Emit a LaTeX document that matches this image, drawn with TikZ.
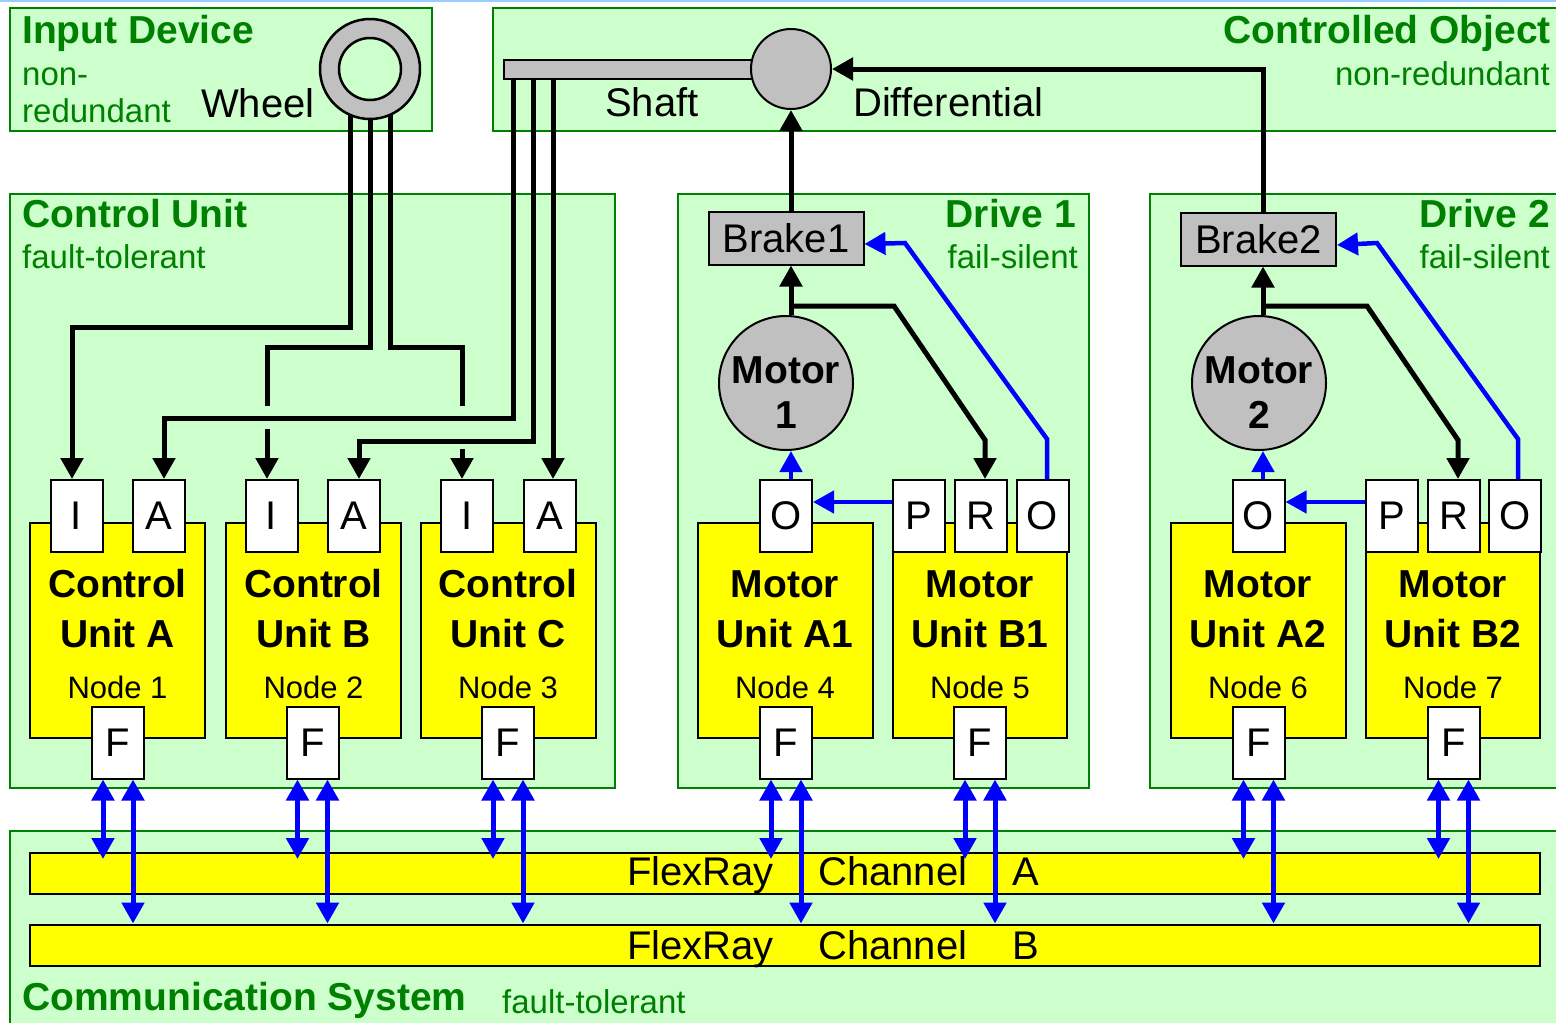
\documentclass[tikz,border=0pt]{standalone}
\usepackage{fontspec}
\setmainfont{Liberation Sans}
\usetikzlibrary{arrows.meta,calc}

\definecolor{cZoneBg}{HTML}{CCFFCC}
\definecolor{cZoneLine}{HTML}{008000}
\definecolor{cZoneText}{HTML}{008000}
\definecolor{cGray}{HTML}{C0C0C0}
\definecolor{cBlue}{HTML}{0000FF}
\definecolor{cYellow}{HTML}{FFFF00}
\definecolor{cRule}{HTML}{99CCFF}

\pgfdeclarelayer{zones}
\pgfdeclarelayer{wires}
\pgfsetlayers{zones,wires,main}

\newcommand\fsTitle{\fontsize{39}{44}\selectfont\bfseries}
\newcommand\fsNote{\fontsize{33}{38}\selectfont}
\newcommand\fsLabel{\fontsize{40}{45}\selectfont}
\newcommand\fsUnit{\fontsize{39}{44}\selectfont\bfseries}
\newcommand\fsNode{\fontsize{31}{36}\selectfont}

\begin{document}
\begin{tikzpicture}[x=1pt,y=-1pt,
  >={Triangle[length=21pt,width=22pt]},
  zone/.style={draw=cZoneLine,line width=2pt},
  zonetitle/.style={text=cZoneText,font=\fsTitle,inner sep=0pt},
  zonenote/.style={text=cZoneText,font=\fsNote,inner sep=0pt},
  partlabel/.style={font=\fsLabel,inner sep=0pt},
  unitname/.style={font=\fsUnit,inner sep=0pt,anchor=base},
  nodename/.style={font=\fsNode,inner sep=0pt,anchor=base},
  pin/.style={draw,fill=white,line width=2pt,minimum width=52pt,minimum height=72pt,inner sep=0pt,font=\fsLabel},
  ecu/.style={draw,fill=cYellow,line width=2pt,minimum width=175pt,minimum height=215pt,inner sep=0pt},
  part/.style={draw,fill=cGray,line width=2pt,inner sep=0pt},
  bus/.style={draw,fill=cYellow,line width=2pt,minimum width=1510pt,minimum height=41pt,inner sep=0pt},
  wire/.style={line width=5pt,black},
  sig/.style={line width=4.5pt,cBlue},
  duplex/.style={line width=5pt,cBlue,<->}
]
\useasboundingbox (0,0) rectangle (1556,1023);

% ---------- zones ----------
\begin{pgfonlayer}{zones}
  \fill[white] (0,0) rectangle (1556,1023);
  \draw[cRule,line width=2pt] (0,1) -- (1556,1);
  % input device
  \draw[zone,fill=cZoneBg] (10,8) rectangle (432,131);
  % controlled object (runs off the right edge)
  \fill[cZoneBg] (493,8) rectangle (1556,131);
  \draw[zone] (1556,8) -- (493,8) -- (493,131) -- (1556,131);
  % control unit
  \draw[zone,fill=cZoneBg] (10,194) rectangle (615,788);
  % drive 1
  \draw[zone,fill=cZoneBg] (678,194) rectangle (1089,788);
  % drive 2
  \fill[cZoneBg] (1150,194) rectangle (1556,788);
  \draw[zone] (1556,194) -- (1150,194) -- (1150,788) -- (1556,788);
  % communication system
  \fill[cZoneBg] (10,831) rectangle (1556,1023);
  \draw[zone] (1556,831) -- (10,831) -- (10,1023);
\end{pgfonlayer}

% ---------- zone titles ----------
\node[zonetitle,anchor=base west] (tInput) at (22,43) {Input Device};
\node[zonenote,anchor=base west] (nInput1) at (22,85) {non-};
\node[zonenote,anchor=base west] (nInput2) at (22,122) {redundant};
\node[zonetitle,anchor=base east] (tObject) at (1551,43) {Controlled Object};
\node[zonenote,anchor=base east] (nObject) at (1550,85) {non-redundant};
\node[zonetitle,anchor=base west] (tControl) at (22,227) {Control Unit};
\node[zonenote,anchor=base west] (nControl) at (22,268) {fault-tolerant};
\node[zonetitle,anchor=base east] (tDrive1) at (1076,227) {Drive 1};
\node[zonenote,anchor=base east] (nDrive1) at (1078,268) {fail-silent};
\node[zonetitle,anchor=base east] (tDrive2) at (1550,227) {Drive 2};
\node[zonenote,anchor=base east] (nDrive2) at (1550,268) {fail-silent};
\node[zonetitle,anchor=base west] (tComm) at (22,1010) {Communication System};
\node[zonenote,anchor=base west] (nComm) at (502,1013) {fault-tolerant};

% ---------- mechanical parts ----------
\node[circle,part,line width=2.5pt,minimum size=100pt] (wheel) at (370,69) {};
\node[circle,draw,fill=cZoneBg,line width=2.5pt,minimum size=62pt,inner sep=0pt] (hub) at (wheel.center) {};
\node[partlabel,anchor=base west] (lWheel) at (201,117) {Wheel};

\node[part,minimum width=250pt,minimum height=19pt,anchor=west] (shaft) at (503,69) {};
\node[circle,part,minimum size=80pt] (diff) at (791,69) {};
\node[partlabel,anchor=base west] (lShaft) at (605,116) {Shaft};
\node[partlabel,anchor=base west] (lDiff) at (853,116) {Differential};

\node[part,font=\fsLabel,minimum width=155pt,minimum height=53pt] (brake1) at (786,238) {Brake1};
\node[part,font=\fsLabel,minimum width=155pt,minimum height=53pt] (brake2) at (1258.5,239) {Brake2};

\node[circle,part,minimum size=134pt] (motor1) at (786,383) {};
\node[unitname] (lMotor1a) at (786,383) {Motor};
\node[unitname] (lMotor1b) at (786,428) {1};
\node[circle,part,minimum size=134pt] (motor2) at (1259,383) {};
\node[unitname] (lMotor2a) at (1259,383) {Motor};
\node[unitname] (lMotor2b) at (1259,428) {2};

% ---------- control units ----------
\node[ecu] (cuA) at (117.5,630.5) {};
\node[unitname] (lcuA1) at (117.5,597.5) {Control};
\node[unitname] (lcuA2) at (117.5,647) {Unit A};
\node[nodename] (lcuA3) at (117.5,698) {Node 1};
\node[pin] (iA) at (76.5,516) {I};
\node[pin] (aA) at (158.5,516) {A};
\node[pin] (fA) at (118,742.5) {F};

\node[ecu] (cuB) at (313.5,630.5) {};
\node[unitname] (lcuB1) at (313.5,597.5) {Control};
\node[unitname] (lcuB2) at (313.5,647) {Unit B};
\node[nodename] (lcuB3) at (313.5,698) {Node 2};
\node[pin] (iB) at (271.5,516) {I};
\node[pin] (aB) at (354,516) {A};
\node[pin] (fB) at (312.5,742.5) {F};

\node[ecu] (cuC) at (508,630.5) {};
\node[unitname] (lcuC1) at (508,597.5) {Control};
\node[unitname] (lcuC2) at (508,647) {Unit C};
\node[nodename] (lcuC3) at (508,698) {Node 3};
\node[pin] (iC) at (467,516) {I};
\node[pin] (aC) at (550,516) {A};
\node[pin] (fC) at (508,742.5) {F};

% ---------- motor units ----------
\node[ecu] (muA1) at (785,630.5) {};
\node[unitname] (lmA1a) at (785,597.5) {Motor};
\node[unitname] (lmA1b) at (785,647) {Unit A1};
\node[nodename] (lmA1c) at (785,698) {Node 4};
\node[pin] (o4) at (786,516) {O};
\node[pin] (f4) at (786,742.5) {F};

\node[ecu,minimum width=174pt] (muB1) at (980,630.5) {};
\node[unitname] (lmB1a) at (980,597.5) {Motor};
\node[unitname] (lmB1b) at (980,647) {Unit B1};
\node[nodename] (lmB1c) at (980,698) {Node 5};
\node[pin] (p5) at (919,516) {P};
\node[pin] (r5) at (980.5,516) {R};
\node[pin] (o5) at (1042.5,516) {O};
\node[pin] (f5) at (980,742.5) {F};

\node[ecu] (muA2) at (1258,630.5) {};
\node[unitname] (lmA2a) at (1258,597.5) {Motor};
\node[unitname] (lmA2b) at (1258,647) {Unit A2};
\node[nodename] (lmA2c) at (1258,698) {Node 6};
\node[pin] (o6) at (1258.5,516) {O};
\node[pin] (f6) at (1258.5,742.5) {F};

\node[ecu,minimum width=174pt] (muB2) at (1453,630.5) {};
\node[unitname] (lmB2a) at (1453,597.5) {Motor};
\node[unitname] (lmB2b) at (1453,647) {Unit B2};
\node[nodename] (lmB2c) at (1453,698) {Node 7};
\node[pin] (p7) at (1391.5,516) {P};
\node[pin] (r7) at (1453.5,516) {R};
\node[pin] (o7) at (1515,516) {O};
\node[pin] (f7) at (1453.5,742.5) {F};

% ---------- FlexRay channels ----------
\node[bus] (chA) at (785,873.5) {};
\node[bus] (chB) at (785,945) {};
\node[partlabel,anchor=base west] (lA1) at (627,885.5) {FlexRay};
\node[partlabel,anchor=base west] (lA2) at (818,885.5) {Channel};
\node[partlabel,anchor=base west] (lA3) at (1012,885.5) {A};
\node[partlabel,anchor=base west] (lB1) at (627,959) {FlexRay};
\node[partlabel,anchor=base west] (lB2) at (818,959) {Channel};
\node[partlabel,anchor=base west] (lB3) at (1012,959) {B};

% ---------- connectors ----------
\coordinate (d1) at (791,306);
\coordinate (d2) at (1263,306);

\begin{pgfonlayer}{wires}
  % wheel sensors to the I ports
  \draw[wire,->] ([xshift=-20pt]wheel.center) -- ++(0,258) -| ([xshift=-4.5pt]iA.north);
  \draw[wire] (wheel.center) -- ++(0,278) -| ($(iB.north)+(-4.5,-73)$);
  \draw[wire,->] ($(iB.north)+(-4.5,-50)$) -- ([xshift=-4.5pt]iB.north);
  \draw[wire] ([xshift=20pt]wheel.center) -- ++(0,278) -| ($(iC.north)+(-5,-73)$);
  \draw[wire,->] ($(iC.north)+(-5,-30)$) -- ([xshift=-5pt]iC.north);

  % shaft sensors to the A ports
  \draw[wire,->] ([xshift=10pt]shaft.west) -- ++(0,349) -| ([xshift=5.5pt]aA.north);
  \draw[wire,->] ([xshift=30pt]shaft.west) -- ++(0,372) -| ([xshift=5pt]aB.north);
  \draw[wire,->] ([xshift=50pt]shaft.west) -- ([xshift=50pt]shaft.west |- aC.north);

  % drive 1
  \draw[wire,->] (brake1.north -| d1) -- (diff.south);
  \draw[wire,->] (motor1.north -| d1) -- (brake1.south -| d1);
  \draw[wire,->] (d1) -- ++(103,0) -- ++(91,134) -- ([xshift=4.5pt]r5.north);
  \draw[sig,->] ([xshift=4.5pt]o5.north) -- ++(0,-40) -- ++(-142,-196) -- ([yshift=-6pt]brake1.east);
  \draw[sig,->] (o4.north -| d1) -- (motor1.south -| d1);
  \draw[sig,->] ([yshift=14pt]p5.west) -- ([yshift=14pt]p5.west -| o4.east);

  % drive 2
  \draw[wire,->] (brake2.north -| d2) |- (diff.east);
  \draw[wire,->] (motor2.north -| d2) -- (brake2.south -| d2);
  \draw[wire,->] (d2) -- ++(104,0) -- ++(91,134) -- ([xshift=4.5pt]r7.north);
  \draw[sig,->] ([xshift=3pt]o7.north) -- ++(0,-40) -- ++(-141,-196) -- ([yshift=-6pt]brake2.east);
  \draw[sig,->] (o6.north -| d2) -- (motor2.south -| d2);
  \draw[sig,->] ([yshift=14pt]p7.west) -- ([yshift=14pt]p7.west -| o6.east);
\end{pgfonlayer}

% bus couplings, drawn over the channels
\foreach \f in {fA,fB,fC,f4,f5,f6,f7}{
  \draw[duplex] ([xshift=-15pt]\f.south) -- ($([xshift=-15pt]\f.south |- chA.north)+(0,7)$);
  \draw[duplex] ([xshift=15pt]\f.south) -- ([xshift=15pt]\f.south |- chB.north);
}
\end{tikzpicture}
\end{document}
